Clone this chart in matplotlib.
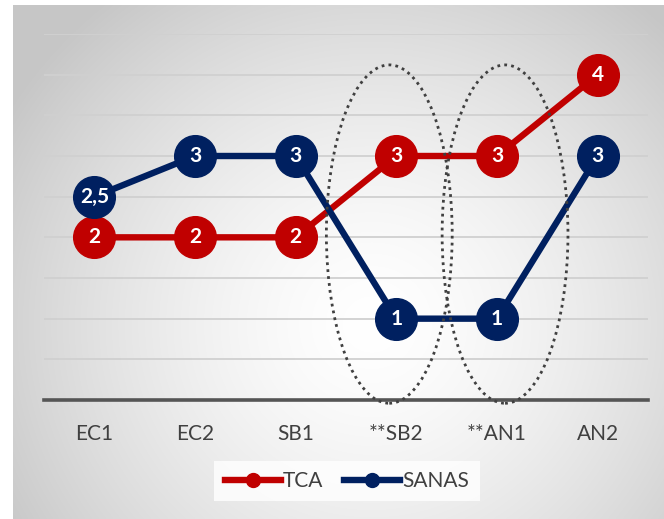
import numpy as np
import matplotlib.pyplot as plt
from matplotlib.patches import Ellipse
from matplotlib.lines import Line2D

plt.rcParams['font.family'] = ['Lato', 'DejaVu Sans']

categories = ["EC1", "EC2", "SB1", "**SB2", "**AN1", "AN2"]
tca = [2, 2, 2, 3, 3, 4]
sanas = [2.5, 3, 3, 1, 1, 3]

red = "#C00000"
navy = "#002060"

W, H = 664, 519
fig = plt.figure(figsize=(W / 100, H / 100), dpi=100)

# radial grey-to-white backdrop of the chart area
bg = fig.add_axes([13 / W, 0, 1 - 13 / W, 1 - 5 / H], zorder=-5)
ny, nx = 300, 400
yy, xx = np.mgrid[0:ny, 0:nx]
cx, cy = 0.55 * nx, 0.62 * ny
r = np.sqrt(((xx - cx) / (0.65 * nx)) ** 2 + ((yy - cy) / (0.8 * ny)) ** 2)
r = np.clip(r, 0, 1)
shade = 1.0 - 0.22 * r ** 1.5
bg.imshow(np.dstack([shade] * 3), aspect='auto', extent=[0, 1, 0, 1], interpolation='bilinear')
bg.set_xlim(0, 1)
bg.set_ylim(0, 1)
bg.axis('off')

ax = fig.add_axes([44 / W, 1 - 400 / H, 604 / W, 366 / H])
ax.set_facecolor('none')
x = np.arange(len(categories))

ax.set_xlim(-0.5, len(categories) - 0.5)
ax.set_ylim(0, 4.5)
for gy in np.arange(0.5, 4.51, 0.5):
    ax.axhline(gy, color="#d0d0d0", lw=1.3, zorder=1)
ax.axhline(0, color="#555555", lw=2.6, zorder=2, clip_on=False)

ax.plot(x, tca, color=red, lw=4.6, marker='o', ms=30, zorder=3, label="TCA")
ax.plot(x, sanas, color=navy, lw=4.6, marker='o', ms=30, zorder=4, label="SANAS")

for xi, v in zip(x, tca):
    ax.text(xi, v, f"{v:g}".replace(".", ","), color="white", fontsize=15,
            fontweight='bold', ha='center', va='center', zorder=5)
for xi, v in zip(x, sanas):
    ax.text(xi, v, f"{v:g}".replace(".", ","), color="white", fontsize=15,
            fontweight='bold', ha='center', va='center', zorder=6)

# dotted rings around the SB2 and AN1 columns
for cxe in (2.93, 4.08):
    ax.add_patch(Ellipse((cxe, 2.04), 1.25, 4.16, fill=False, ec="#404040",
                         lw=2.0, ls=(0, (1, 1.5)), zorder=7, clip_on=False))

ax.set_xticks(x)
ax.set_xticklabels(categories, fontsize=15, color="#404040")
ax.tick_params(axis='x', length=0, pad=17)
ax.set_yticks([])
for s in ax.spines.values():
    s.set_visible(False)

handles = [Line2D([], [], color=red, lw=4.6, marker='o', ms=10),
           Line2D([], [], color=navy, lw=4.6, marker='o', ms=10)]
leg = fig.legend(handles, ["TCA", "SANAS"], loc='center', ncol=2,
                 bbox_to_anchor=(347 / W, 1 - 481 / H), fontsize=15,
                 handlelength=2.7, handletextpad=0.1, columnspacing=1.0,
                 frameon=True, fancybox=False, borderpad=0.5)
leg.get_frame().set_facecolor((1, 1, 1, 0.3))
leg.get_frame().set_edgecolor('none')
for t in leg.get_texts():
    t.set_color("#404040")

fig.savefig("out.png", dpi=100)
